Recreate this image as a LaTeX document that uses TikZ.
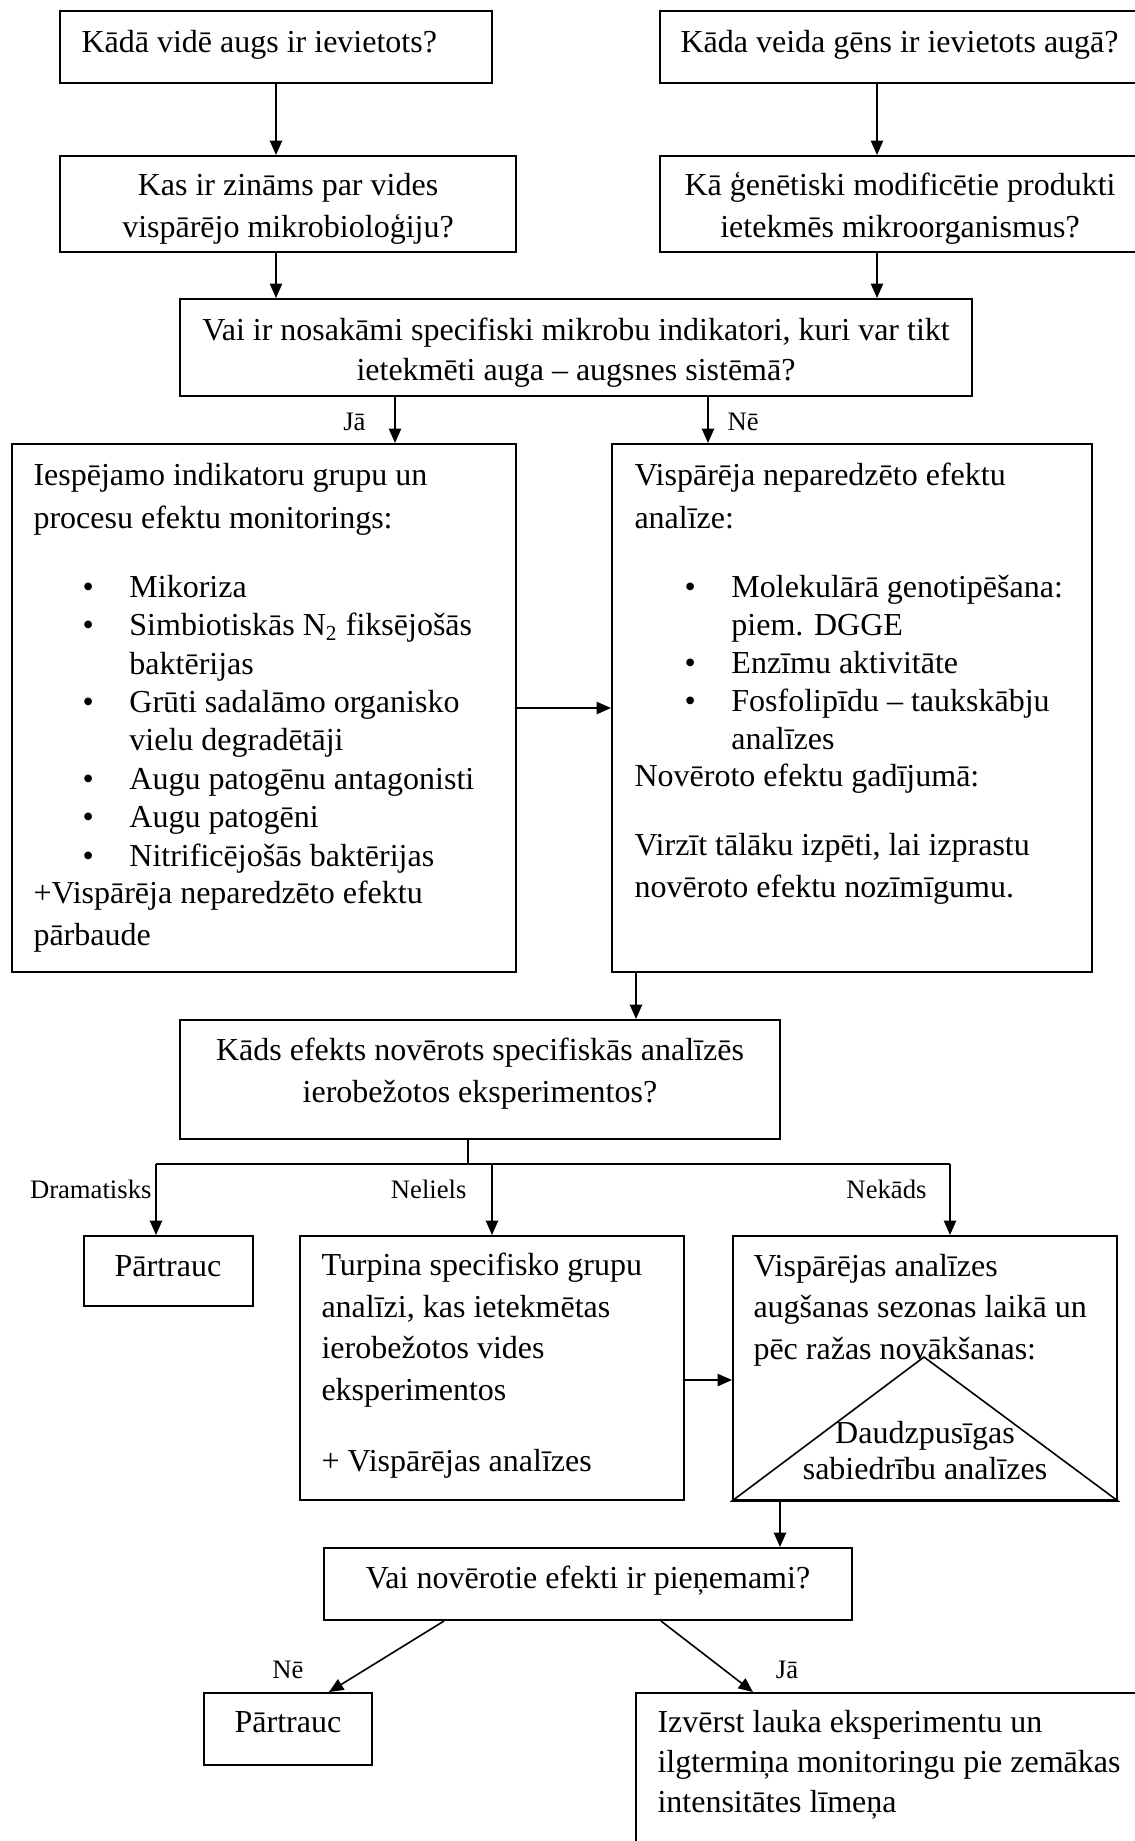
\documentclass[tikz,border=0pt]{standalone}
\usepackage{fontspec}
\setmainfont{Liberation Serif}
\usetikzlibrary{arrows.meta,fit}

\newcommand{\bul}{\makebox[17.6pt][l]{\textbullet}}
\newcommand{\ind}{\hspace*{17.6pt}}

\begin{document}
\begin{tikzpicture}[x=0.375pt, y=-0.375pt,
    box/.style={draw, line width=0.75pt, inner sep=0pt},
    txt/.style={inner sep=0pt, font=\fontsize{12}{#1}\selectfont},
    txt/.default=15.5pt,
    lbl/.style={inner sep=0pt, font=\fontsize{10}{12}\selectfont},
    arr/.style={line width=0.6pt, -{Triangle[length=5.4pt,width=4.6pt]}}]
    \useasboundingbox (0,0) rectangle (1135,1841);
    % Two starting questions (multi-line texts sit on their last baseline)
    \node[box, fit={(60,11) (492,83)}] (vide) {};
    \node[txt, anchor=base west] (vide-t) at (81,52) {Kādā vidē augs ir ievietots?};
    \node[box, fit={(660,11) (1145,83)}] (gens) {};
    \node[txt, anchor=base west] (gens-t) at (680,52) {Kāda veida gēns ir ievietots augā?};
    \node[box, fit={(60,156) (516,252)}] (mikro) {};
    \node[txt=15.4pt, align=center, anchor=base] (mikro-t) at (288,237)
        {Kas ir zināms par vides\\vispārējo mikrobioloģiju?};
    \node[box, fit={(660,156) (1145,252)}] (gmo) {};
    \node[txt=15.4pt, align=center, anchor=base] (gmo-t) at (900,237)
        {Kā ģenētiski modificētie produkti\\ietekmēs mikroorganismus?};
    % Indicator question
    \node[box, fit={(180,299) (972,396)}] (ind) {};
    \node[txt=15pt, align=center, anchor=base] (ind-t) at (576,380)
        {Vai ir nosakāmi specifiski mikrobu indikatori, kuri var tikt\\ietekmēti auga – augsnes sistēmā?};
    % Left: indicator groups
    \node[box, fit={(12,444) (516,972)}] (grupas) {};
    \node[txt=16.1pt, align=left, anchor=base west] (grupas-t) at (33,528)
        {Iespējamo indikatoru grupu un\\procesu efektu monitorings:};
    \node[txt=14.4pt, align=left, anchor=base west] (grupas-l) at (82,866)
        {\bul Mikoriza\\
         \bul Simbiotiskās N\textsubscript{2} fiksējošās\\
         \ind baktērijas\\
         \bul Grūti sadalāmo organisko\\
         \ind vielu degradētāji\\
         \bul Augu patogēnu antagonisti\\
         \bul Augu patogēni\\
         \bul Nitrificējošās baktērijas};
    \node[txt=15.75pt, align=left, anchor=base west] (grupas-b) at (33,945)
        {+Vispārēja neparedzēto efektu\\pārbaude};
    % Right: general analysis
    \node[box, fit={(612,444) (1092,972)}] (visp) {};
    \node[txt=16.1pt, align=left, anchor=base west] (visp-t) at (634,528)
        {Vispārēja neparedzēto efektu\\analīze:};
    \node[txt=14.2pt, align=left, anchor=base west] (visp-l) at (684,749)
        {\bul Molekulārā genotipēšana:\\
         \ind piem. DGGE\\
         \bul Enzīmu aktivitāte\\
         \bul Fosfolipīdu – taukskābju\\
         \ind analīzes};
    \node[txt, anchor=base west] (visp-g) at (634,786) {Novēroto efektu gadījumā:};
    \node[txt=15.75pt, align=left, anchor=base west] (visp-b) at (634,897)
        {Virzīt tālāku izpēti, lai izprastu\\novēroto efektu nozīmīgumu.};
    % Observed effect
    \node[box, fit={(180,1020) (780,1139)}] (efekts) {};
    \node[txt=15.4pt, align=center, anchor=base] (efekts-t) at (480,1102)
        {Kāds efekts novērots specifiskās analīzēs\\ierobežotos eksperimentos?};
    \node[box, fit={(84,1236) (253,1306)}] (stop1) {};
    \node[txt, anchor=base] (stop1-t) at (168,1276) {Pārtrauc};
    \node[box, fit={(300,1236) (684,1500)}] (turp) {};
    \node[txt=15.56pt, align=left, anchor=base west] (turp-t) at (321,1400)
        {Turpina specifisko grupu\\analīzi, kas ietekmētas\\ierobežotos vides\\eksperimentos};
    \node[txt, anchor=base west] (turp-b) at (321,1471) {+ Vispārējas analīzes};
    \node[box, fit={(733,1236) (1117,1500)}] (sez) {};
    \node[txt=15.56pt, align=left, anchor=base west] (sez-t) at (753,1359)
        {Vispārējas analīzes\\augšanas sezonas laikā un\\pēc ražas novākšanas:};
    \coordinate (virsotne) at (924,1357);
    \draw[line width=0.6pt] (sez.south west) -- (virsotne) -- (sez.south east) -- cycle;
    \node[txt=13.5pt, align=center, anchor=base] (sab-t) at (925,1479)
        {Daudzpusīgas\\sabiedrību analīzes};
    % Acceptable?
    \node[box, fit={(324,1548) (852,1620)}] (pien) {};
    \node[txt, anchor=base] (pien-t) at (588,1588) {Vai novērotie efekti ir pieņemami?};
    \node[box, fit={(204,1693) (372,1765)}] (stop2) {};
    \node[txt, anchor=base] (stop2-t) at (288,1732) {Pārtrauc};
    \node[box, fit={(636,1693) (1145,1860)}] (lauks) {};
    \node[txt=15pt, align=left, anchor=base west] (lauks-t) at (657,1812)
        {Izvērst lauka eksperimentu un\\ilgtermiņa monitoringu pie zemākas\\intensitātes līmeņa};
    % Arrow columns
    \coordinate (k1) at (276,0);
    \coordinate (k2) at (877,0);
    \coordinate (k3) at (395,0);
    \coordinate (k4) at (708,0);
    \coordinate (k5) at (636,0);
    \coordinate (z0) at (468,1164);
    \coordinate (z1) at (156,1164);
    \coordinate (z2) at (492,1164);
    \coordinate (z3) at (950,1164);
    \coordinate (k6) at (780,0);
    \coordinate (k7) at (0,1380);
    \draw[arr] (vide.south -| k1) -- (mikro.north -| k1);
    \draw[arr] (gens.south -| k2) -- (gmo.north -| k2);
    \draw[arr] (mikro.south -| k1) -- (ind.north -| k1);
    \draw[arr] (gmo.south -| k2) -- (ind.north -| k2);
    \draw[arr] (ind.south -| k3) -- (grupas.north -| k3);
    \draw[arr] (ind.south -| k4) -- (visp.north -| k4);
    \node[lbl, anchor=base east] (ja1) at (366,430) {Jā};
    \node[lbl, anchor=base west] (ne1) at (727,430) {Nē};
    \draw[arr] (grupas.east) -- (visp.west);
    \draw[arr] (visp.south -| k5) -- (efekts.north -| k5);
    % Three outcomes
    \draw[line width=0.6pt] (efekts.south -| z0) -- (z0);
    \draw[line width=0.6pt] (z1) -- (z3);
    \draw[arr] (z1) -- (stop1.north -| z1);
    \draw[arr] (z2) -- (turp.north -| z2);
    \draw[arr] (z3) -- (sez.north -| z3);
    \node[lbl, anchor=base east] (dram) at (152,1198) {Dramatisks};
    \node[lbl, anchor=base east] (nel) at (467,1198) {Neliels};
    \node[lbl, anchor=base east] (nek) at (927,1198) {Nekāds};
    \draw[arr] (turp.east |- k7) -- (sez.west |- k7);
    \draw[arr] (sez.south -| k6) -- (pien.north -| k6);
    % Final decision
    \draw[arr] (pien.south -| 444,0) -- (stop2.north -| 329,0);
    \draw[arr] (pien.south -| 661,0) -- (lauks.north -| 753,0);
    \node[lbl, anchor=base] (ne2) at (288,1678) {Nē};
    \node[lbl, anchor=base] (ja2) at (787,1678) {Jā};
\end{tikzpicture}
\end{document}
